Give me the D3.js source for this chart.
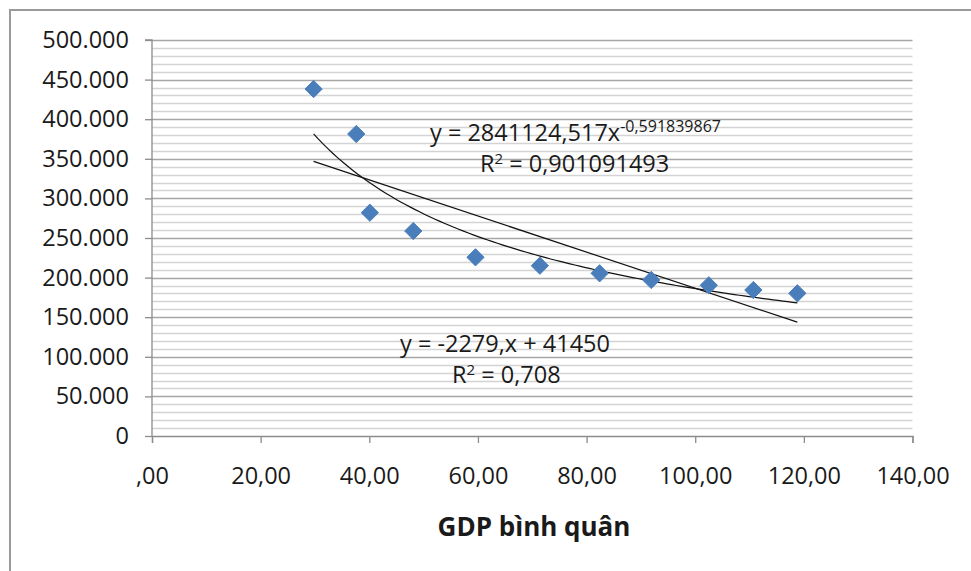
<!DOCTYPE html>
<html>
<head>
<meta charset="utf-8">
<script src="https://cdn.jsdelivr.net/npm/d3@7"></script>
<style>
    body { margin: 0; background: #fff; }
    text { font-family: "Open Sans", sans-serif; fill: #1a1a1a; }
</style>
</head>
<body>
<svg id="chart" width="971" height="571"></svg>
<script>

/* global d3 */

let gdp = [29.75, 37.6, 40.1, 48.1, 59.55, 71.4, 82.4, 91.9, 102.5, 110.7, 118.8];
let values = [438100, 381300, 281900, 258800, 225600, 215000, 205400, 197000, 190300, 184300, 180200];

let xTicks = [0, 20, 40, 60, 80, 100, 120, 140];
let yTicks = [0, 50000, 100000, 150000, 200000, 250000, 300000, 350000, 400000, 450000, 500000];
let yMinorTicks = d3.range(0, 500001, 10000);

// trendline coefficients as shown in the chart labels
let linSlope = -2279;
let linIntercept = 414500;
let powCoef = 2841124.517;
let powExp = -0.591839867;

let xTitle = 'GDP bình quân';

let margin = {left: 152, right: 58, top: 40, bottom: 135};
let width = 971, height = 571;

let locale = d3.formatLocale({decimal: ',', thousands: '.', grouping: [3], currency: ['', '']});
let fmtY = locale.format(',.0f');
let fmtX = v => locale.format(',.2f')(v).replace(/^0,/, ',');

let svg = d3.select('#chart');

let x = d3.scaleLinear()
    .domain([0, 140])
    .range([margin.left, width - margin.right - 0.5]);

let y = d3.scaleLinear()
    .domain([0, 500000])
    .range([height - margin.bottom, margin.top]);

// outer frame, runs off the bottom and right of the picture
svg.append('rect')
    .attr('x', 10).attr('y', 10)
    .attr('width', 980).attr('height', 600)
    .attr('fill', 'none')
    .attr('stroke', '#9a9a9a')
    .attr('stroke-width', 2);

let grid = svg.append('g').attr('class', 'grid');

grid.selectAll('line.minor')
    .data(yMinorTicks.filter(v => v % 50000 !== 0))
    .enter()
    .append('line')
    .classed('minor', true)
    .attr('x1', x(0)).attr('x2', x(140))
    .attr('y1', d => Math.round(y(d)) + 0.5)
    .attr('y2', d => Math.round(y(d)) + 0.5)
    .attr('stroke', '#d4d4d4')
    .attr('stroke-width', 1.3);

grid.selectAll('line.major')
    .data(yTicks.filter(v => v > 0))
    .enter()
    .append('line')
    .classed('major', true)
    .attr('x1', x(0)).attr('x2', x(140))
    .attr('y1', d => Math.round(y(d)) + 0.5)
    .attr('y2', d => Math.round(y(d)) + 0.5)
    .attr('stroke', '#a6a6a6')
    .attr('stroke-width', 1.3);

let yAxis = d3.axisLeft(y)
    .tickValues(yTicks)
    .tickFormat(fmtY)
    .tickSize(7)
    .tickPadding(16);

let xAxis = d3.axisBottom(x)
    .tickValues(xTicks)
    .tickFormat(fmtX)
    .tickSize(7)
    .tickPadding(24);

let styleAxis = g => {
    g.select('.domain').attr('stroke', '#8c8c8c').attr('stroke-width', 1.3);
    g.selectAll('.tick line').attr('stroke', '#8c8c8c').attr('stroke-width', 1.3);
    g.selectAll('.tick text')
        .attr('font-family', '"Open Sans", sans-serif')
        .attr('font-size', 23.5)
        .attr('fill', '#1a1a1a');
};

svg.append('g')
    .attr('transform', `translate(${margin.left},0)`)
    .call(yAxis)
    .call(g => g.select('.domain').attr('d', `M-7,${y(500000)}H0V${y(0)}`))
    .call(styleAxis);

svg.append('g')
    .attr('transform', `translate(0,${height - margin.bottom})`)
    .call(xAxis)
    .call(styleAxis);

// trendlines over the data range
let xMin = d3.min(gdp), xMax = d3.max(gdp);
let trendXs = d3.range(0, 101).map(i => xMin + (xMax - xMin) * i / 100);

let line = d3.line()
    .x(d => x(d[0]))
    .y(d => y(d[1]));

svg.append('path')
    .datum([[xMin, linSlope * xMin + linIntercept], [xMax, linSlope * xMax + linIntercept]])
    .attr('d', line)
    .attr('fill', 'none')
    .attr('stroke', '#111')
    .attr('stroke-width', 1.2);

svg.append('path')
    .datum(trendXs.map(v => [v, powCoef * Math.pow(v, powExp)]))
    .attr('d', line)
    .attr('fill', 'none')
    .attr('stroke', '#111')
    .attr('stroke-width', 1.2);

svg.selectAll('path.pt')
    .data(d3.zip(gdp, values))
    .enter()
    .append('path')
    .classed('pt', true)
    .attr('d', d3.symbol(d3.symbolDiamond2, 190))
    .attr('transform', d => `translate(${x(d[0])},${y(d[1])})`)
    .attr('fill', '#4a7ebb')
    .attr('stroke', '#4a7ebb')
    .attr('stroke-width', 1);

// equation labels
let eq = svg.append('g').attr('font-size', 23.5);

let powText = eq.append('text')
    .attr('x', 430).attr('y', 141);
powText.append('tspan').text('y = 2841124,517x');
powText.append('tspan')
    .attr('font-size', 16)
    .attr('dy', -9)
    .text('-0,591839867');

let r2a = eq.append('text').attr('x', 480).attr('y', 172);
r2a.append('tspan').text('R');
r2a.append('tspan').attr('font-size', 15).attr('dy', -8).text('2');
r2a.append('tspan').attr('dy', 8).text(' = 0,901091493');

eq.append('text')
    .attr('x', 400).attr('y', 352)
    .text('y = -2279,x + 41450');

let r2b = eq.append('text').attr('x', 452).attr('y', 383);
r2b.append('tspan').text('R');
r2b.append('tspan').attr('font-size', 15).attr('dy', -8).text('2');
r2b.append('tspan').attr('dy', 8).text(' = 0,708');

svg.append('text')
    .attr('x', 534).attr('y', 536)
    .attr('text-anchor', 'middle')
    .attr('font-family', '"Liberation Sans", Arial, sans-serif')
    .attr('font-weight', 'bold')
    .attr('font-size', 26)
    .attr('fill', '#000')
    .text(xTitle);

</script>
</body>
</html>
